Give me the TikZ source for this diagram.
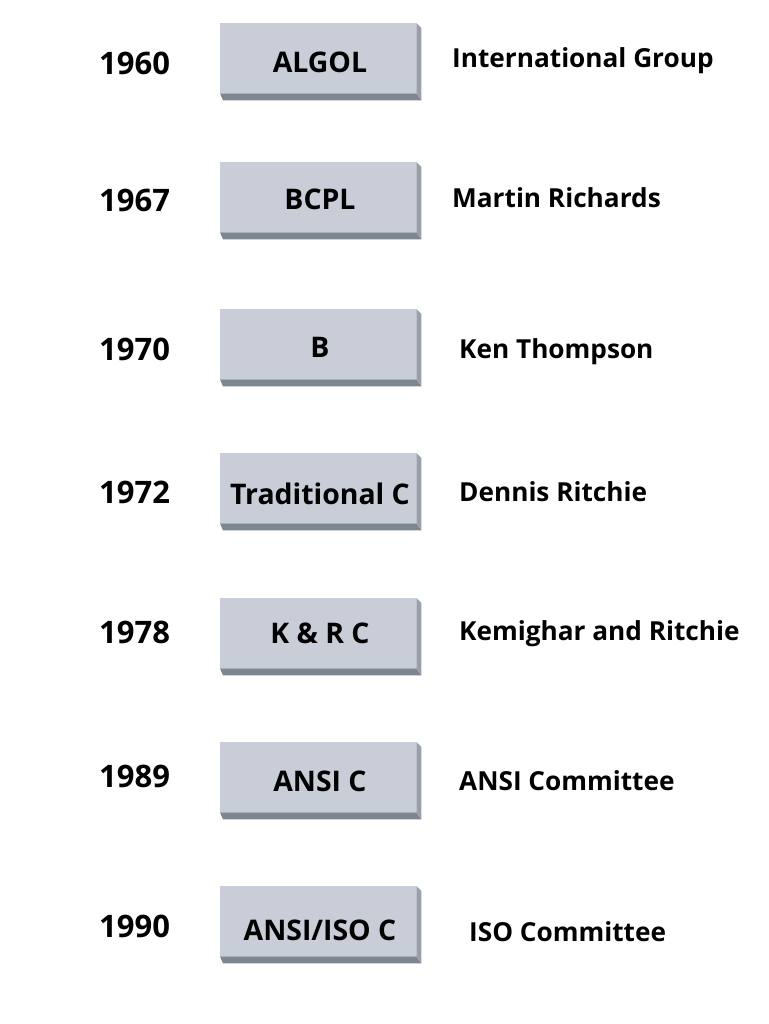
\documentclass[tikz,border=0pt]{standalone}
\usepackage{fontspec}
\setmainfont{Open Sans}
\usetikzlibrary{calc}
\definecolor{facecol}{HTML}{C8CDD7}
\definecolor{botcol}{HTML}{7E8690}
\definecolor{sidecol}{HTML}{99A0AA}
\newcommand{\langrow}[9]{%
  % #1 name, #2 top y, #3 language, #4 lang baseline, #5 year, #6 year baseline, #7 author, #8 author x, #9 author baseline
  \node[face] (#1) at (220,#2) {};
  \fill[botcol] (#1.south west) -- ($(#1.south west)+(3,7)$) -- ($(#1.south east)+(5,7)$) -- (#1.south east) -- cycle;
  \fill[sidecol] (#1.north east) -- ($(#1.north east)+(5,5)$) -- ($(#1.south east)+(5,7)$) -- (#1.south east) -- cycle;
  \node[lang] (#1-name) at (320,#4) {#3};
  \node[year] (#1-year) at (99,#6) {#5};
  \node[who] (#1-who) at (#8,#9) {#7};
}
\begin{document}
\begin{tikzpicture}[x=1pt,y=-1pt,
  face/.style={fill=facecol, draw=none, minimum width=196pt, minimum height=70pt, inner sep=0pt, anchor=north west},
  year/.style={font=\fontsize{31}{31}\selectfont\bfseries, anchor=base west, inner sep=0pt},
  lang/.style={font=\fontsize{28.4}{28.4}\selectfont\bfseries, anchor=base, inner sep=0pt},
  who/.style={font=\fontsize{26.2}{26.2}\selectfont\bfseries, anchor=base west, inner sep=0pt}]
\fill[white] (0,0) rectangle (768,1024);
\useasboundingbox (0,0) rectangle (768,1024);
\langrow{algol}{23}{ALGOL}{73}{1960}{75}{International Group}{452}{68}
\langrow{bcpl}{162}{BCPL}{210}{1967}{212}{Martin Richards}{452}{208}
\langrow{b}{309}{B}{357}{1970}{360}{Ken Thompson}{459}{358}
\langrow{trad}{453}{Traditional C}{504}{1972}{503}{Dennis Ritchie}{459}{501}
\langrow{kr}{598}{K \& R C}{643}{1978}{643}{Kemighar and Ritchie}{459}{640}
\langrow{ansi}{742}{ANSI C}{791}{1989}{787}{ANSI Committee}{459}{790}
\langrow{iso}{886}{ANSI/ISO C}{940}{1990}{937}{ISO Committee}{469}{941}
\end{tikzpicture}
\end{document}
